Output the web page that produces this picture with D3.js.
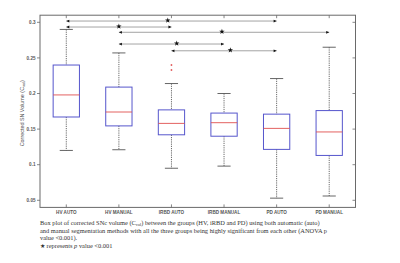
<!DOCTYPE html>
<html>
<head>
<meta charset="utf-8">
<script src="https://cdn.jsdelivr.net/npm/d3@7"></script>
<style>
  body { margin: 0; background: #fff; }
  svg { display: block; }
</style>
</head>
<body>
<div id="chart"></div>
<script>
// Groups and box statistics.
const groups = ["HV AUTO", "HV MANUAL", "iRBD AUTO", "iRBD MANUAL", "PD AUTO", "PD MANUAL"];
const whiskerHigh = [0.290, 0.257, 0.214, 0.200, 0.221, 0.265];
const q3 = [0.240, 0.209, 0.177, 0.1725, 0.171, 0.176];
const medians = [0.198, 0.174, 0.158, 0.159, 0.151, 0.146];
const q1 = [0.167, 0.1545, 0.142, 0.140, 0.1215, 0.113];
const whiskerLow = [0.120, 0.121, 0.095, 0.098, 0.053, 0.056];
// Outliers: [group index, value]
const outliers = [[2, 0.240], [2, 0.233]];
const yTicks = [0.05, 0.1, 0.15, 0.2, 0.25, 0.3];
const yTickLabels = ["0.05", "0.1", "0.15", "0.2", "0.25", "0.3"];

// Significance lines: from group, to group, level (value), star position (group units).
const comparisons = [
    {from: 0, to: 4, level: 0.3018, star: 1.93},
    {from: 0, to: 2, level: 0.2934, star: 1.0},
    {from: 1, to: 5, level: 0.2860, star: 2.96},
    {from: 1, to: 3, level: 0.2695, star: 2.1},
    {from: 2, to: 4, level: 0.2600, star: 3.12}
];

const captionLines = [
    ["Box plot of corrected SNc volume (C", "vol", ") between the groups (HV, iRBD and PD) using both automatic (auto)"],
    ["and manual segmentation methods with all the three groups being highly significant from each other (ANOVA p"],
    ["value <0.001)."]
];

const width = 400, height = 263;
const margin = {left: 40, right: 44.5, top: 15.2, bottom: 55.6};

const svg = d3.select("#chart").append("svg")
    .attr("width", width)
    .attr("height", height);

const x = d3.scaleBand()
    .domain(d3.range(groups.length))
    .range([margin.left, width - margin.right]);

const y = d3.scaleLinear()
    .domain([0.04, 0.31])
    .range([height - margin.bottom, margin.top]);

const cx = i => x(i) + x.bandwidth() / 2;
const xs = d3.scaleLinear().domain([0, groups.length - 1]).range([cx(0), cx(groups.length - 1)]);
const boxW = x.bandwidth() * 0.5;
const capW = boxW * 0.5;

const axisColor = "#6a6a6a";

// Plot frame.
svg.append("rect")
    .attr("x", margin.left)
    .attr("y", margin.top)
    .attr("width", width - margin.left - margin.right)
    .attr("height", height - margin.top - margin.bottom)
    .attr("fill", "none")
    .attr("stroke", axisColor)
    .attr("stroke-width", 1);

// Y ticks (left outside, right inside).
const yt = svg.append("g");
yTicks.forEach((t, i) => {
    yt.append("line")
        .attr("x1", margin.left - 3).attr("x2", margin.left)
        .attr("y1", y(t)).attr("y2", y(t))
        .attr("stroke", axisColor).attr("stroke-width", 0.8);
    yt.append("line")
        .attr("x1", width - margin.right - 3).attr("x2", width - margin.right)
        .attr("y1", y(t)).attr("y2", y(t))
        .attr("stroke", axisColor).attr("stroke-width", 0.8);
    yt.append("text")
        .attr("x", margin.left - 4.5)
        .attr("y", y(t))
        .attr("dy", "0.35em")
        .attr("text-anchor", "end")
        .attr("font-family", "Liberation Sans, Arial, sans-serif")
        .attr("font-weight", "bold")
        .attr("font-size", 4.6)
        .attr("fill", "#555")
        .text(yTickLabels[i]);
});

// X ticks (bottom and top, inside) and labels.
const xt = svg.append("g");
groups.forEach((g, i) => {
    xt.append("line")
        .attr("x1", cx(i)).attr("x2", cx(i))
        .attr("y1", height - margin.bottom).attr("y2", height - margin.bottom - 3)
        .attr("stroke", axisColor).attr("stroke-width", 0.8);
    xt.append("line")
        .attr("x1", cx(i)).attr("x2", cx(i))
        .attr("y1", margin.top).attr("y2", margin.top + 3)
        .attr("stroke", axisColor).attr("stroke-width", 0.8);
    xt.append("text")
        .attr("x", cx(i))
        .attr("y", height - margin.bottom + 6.5)
        .attr("text-anchor", "middle")
        .attr("font-family", "Liberation Sans, Arial, sans-serif")
        .attr("font-weight", "bold")
        .attr("font-size", 4.6)
        .attr("fill", "#555")
        .text(g.toUpperCase());
});

// Y axis title.
const yTitle = svg.append("text")
    .attr("transform", `translate(24,${(margin.top + height - margin.bottom) / 2 + 2}) rotate(-90)`)
    .attr("text-anchor", "middle")
    .attr("font-family", "Liberation Sans, Arial, sans-serif")
    .attr("font-size", 5.4)
    .attr("fill", "#555");
yTitle.append("tspan").text("Corrected SN Volume (C");
yTitle.append("tspan").attr("font-size", 3.8).attr("dy", 1.2).text("vol");
yTitle.append("tspan").attr("dy", -1.2).text(")");

// Boxes.
const boxes = svg.append("g");
groups.forEach((g, i) => {
    const c = cx(i);
    // whiskers
    boxes.append("line")
        .attr("x1", c).attr("x2", c)
        .attr("y1", y(whiskerHigh[i])).attr("y2", y(q3[i]))
        .attr("stroke", "#444").attr("stroke-width", 0.8)
        .attr("stroke-dasharray", "1.2,1");
    boxes.append("line")
        .attr("x1", c).attr("x2", c)
        .attr("y1", y(q1[i])).attr("y2", y(whiskerLow[i]))
        .attr("stroke", "#444").attr("stroke-width", 0.8)
        .attr("stroke-dasharray", "1.2,1");
    [whiskerHigh[i], whiskerLow[i]].forEach(v => {
        boxes.append("line")
            .attr("x1", c - capW / 2).attr("x2", c + capW / 2)
            .attr("y1", y(v)).attr("y2", y(v))
            .attr("stroke", "#555").attr("stroke-width", 0.9);
    });
    boxes.append("rect")
        .attr("x", c - boxW / 2)
        .attr("y", y(q3[i]))
        .attr("width", boxW)
        .attr("height", y(q1[i]) - y(q3[i]))
        .attr("fill", "none")
        .attr("stroke", "#5656cc")
        .attr("stroke-width", 1);
    boxes.append("line")
        .attr("x1", c - boxW / 2).attr("x2", c + boxW / 2)
        .attr("y1", y(medians[i])).attr("y2", y(medians[i]))
        .attr("stroke", "#e0504f").attr("stroke-width", 0.9);
});

// Outliers as red plus markers.
outliers.forEach(([i, v]) => {
    const px = cx(i), py = y(v);
    boxes.append("path")
        .attr("d", `M${px - 1},${py}H${px + 1}M${px},${py - 1}V${py + 1}`)
        .attr("stroke", "#e05050").attr("stroke-width", 0.8);
});

// Significance lines with arrowheads and stars.
const sig = svg.append("g");
comparisons.forEach(c => {
    const x1 = cx(c.from), x2 = cx(c.to), ly = y(c.level);
    sig.append("line")
        .attr("x1", x1).attr("x2", x2)
        .attr("y1", ly).attr("y2", ly)
        .attr("stroke", "#999").attr("stroke-width", 0.9);
    sig.append("path")
        .attr("d", `M${x1},${ly}l3,-1.4v2.8z`)
        .attr("fill", "#111");
    sig.append("path")
        .attr("d", `M${x2},${ly}l-3,-1.4v2.8z`)
        .attr("fill", "#111");
    sig.append("path")
        .attr("d", d3.symbol(d3.symbolStar, 9)())
        .attr("transform", `translate(${xs(c.star)},${ly - 0.6})`)
        .attr("fill", "#111");
});

// Caption below the chart.
const cap = svg.append("g")
    .attr("font-family", "Liberation Serif, Times New Roman, serif")
    .attr("font-size", 6.4)
    .attr("fill", "#333");
const lineY = [225, 232.6, 240.2];
captionLines.forEach((parts, li) => {
    const t = cap.append("text").attr("x", 40).attr("y", lineY[li]);
    if (parts.length === 3) {
        t.append("tspan").text(parts[0]);
        t.append("tspan").attr("font-size", 4.2).attr("dy", 1.2).text(parts[1]);
        t.append("tspan").attr("dy", -1.2).text(parts[2]);
    } else {
        t.text(parts[0]);
    }
});
const last = cap.append("text").attr("x", 40).attr("y", 247.8);
last.append("tspan").text("\u2605 represents ");
last.append("tspan").attr("font-style", "italic").text("p");
last.append("tspan").text(" value <0.001");
</script>
</body>
</html>
